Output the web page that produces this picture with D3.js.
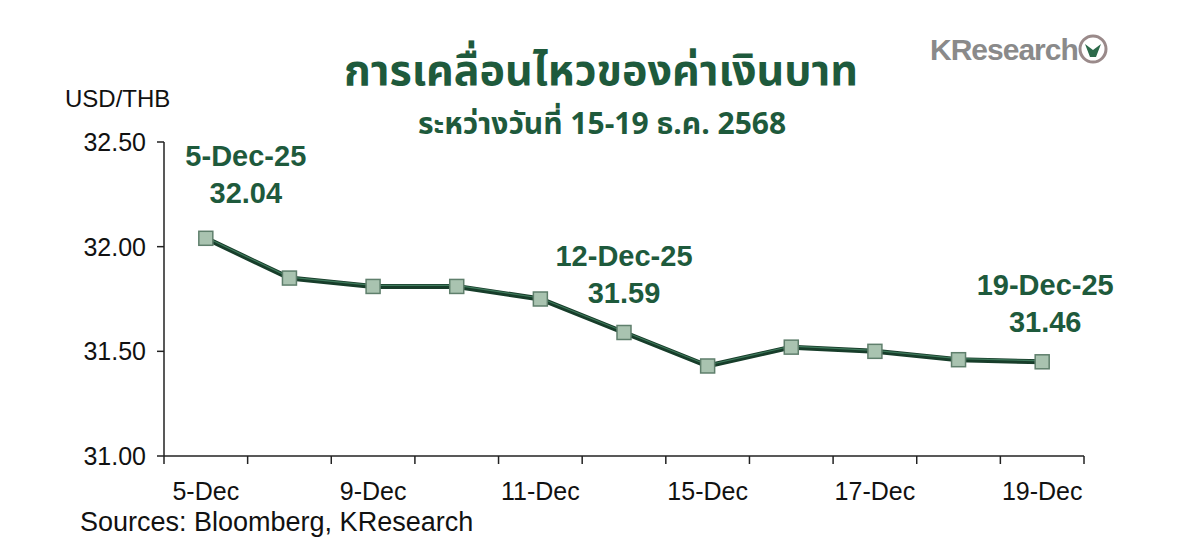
<!DOCTYPE html>
<html><head><meta charset="utf-8">
<script src="https://cdn.jsdelivr.net/npm/d3@7"></script>
<style>body{margin:0;background:#fff}text{font-family:"Liberation Sans",Arial,sans-serif}</style>
</head><body><div id="container"></div>
<script>
const dates = ["5-Dec","8-Dec","9-Dec","10-Dec","11-Dec","12-Dec","15-Dec","16-Dec","17-Dec","18-Dec","19-Dec"]
const rates = [32.04,31.85,31.81,31.81,31.75,31.59,31.43,31.52,31.50,31.46,31.45]
const tickLabels = ["5-Dec","9-Dec","11-Dec","15-Dec","17-Dec","19-Dec"]
const yTicks = [31.00,31.50,32.00,32.50]
const callouts = [
  {date:"5-Dec", lines:["5-Dec-25","32.04"], dx:40, dy:-72},
  {date:"12-Dec", lines:["12-Dec-25","31.59"], dx:0, dy:-66},
  {date:"19-Dec", lines:["19-Dec-25","31.46"], dx:3, dy:-67}
]

const green = "#1e5a3c"
const svg = d3.select("#container").append("svg").attr("width",1200).attr("height",554)

const x = d3.scaleBand().domain(dates).range([164,1084])
const y = d3.scaleLinear().domain([31,32.5]).range([456,142])
const cx = d => x(d) + x.bandwidth()/2

// axes
svg.append("line").attr("x1",164).attr("x2",164).attr("y1",142).attr("y2",456).attr("stroke","#222").attr("stroke-width",1.5)
svg.append("line").attr("x1",164).attr("x2",1084).attr("y1",456).attr("y2",456).attr("stroke","#222").attr("stroke-width",1.5)
yTicks.forEach(t => {
  svg.append("line").attr("x1",157).attr("x2",164).attr("y1",y(t)).attr("y2",y(t)).attr("stroke","#222").attr("stroke-width",1.5)
  svg.append("text").attr("x",146).attr("y",y(t)+9).attr("text-anchor","end").attr("font-size",25).attr("fill","#111").text(t.toFixed(2))
})
dates.concat(["end"]).forEach((d,i) => {
  const xx = 164 + i*x.bandwidth()
  svg.append("line").attr("x1",xx).attr("x2",xx).attr("y1",456).attr("y2",464).attr("stroke","#222").attr("stroke-width",1.5)
})
tickLabels.forEach(d => {
  svg.append("text").attr("x",cx(d)).attr("y",500).attr("text-anchor","middle").attr("font-size",25).attr("fill","#111").text(d)
})

// line
const line = d3.line().x((d,i) => cx(dates[i])).y(d => y(d))
svg.append("path").attr("d",line(rates)).attr("fill","none").attr("stroke","#173d2a").attr("stroke-width",5)
svg.append("path").attr("d",line(rates)).attr("fill","none").attr("stroke","#3f7a5c").attr("stroke-width",1.2).attr("transform","translate(0,-1)")
svg.selectAll(".pt").data(rates).enter().append("rect")
  .attr("x",(d,i) => cx(dates[i])-7).attr("y",d => y(d)-7).attr("width",14).attr("height",14)
  .attr("fill","#a9c3b0").attr("stroke","#5f7f6c").attr("stroke-width",1.5)

// callouts
callouts.forEach(c => {
  const i = dates.indexOf(c.date)
  c.lines.forEach((l,k) => {
    svg.append("text").attr("x",cx(c.date)+c.dx).attr("y",y(rates[i])+c.dy+k*37)
      .attr("text-anchor","middle").attr("font-size",29).attr("font-weight","bold").attr("fill",green).text(l)
  })
})

// titles
svg.append("text").attr("x",601).attr("y",85).attr("text-anchor","middle").attr("font-size",43).attr("font-weight","bold")
  .attr("fill",green).style("font-family","'Noto Sans Thai','Noto Sans',sans-serif").text("การเคลื่อนไหวของค่าเงินบาท")
svg.append("text").attr("x",602).attr("y",134).attr("text-anchor","middle").attr("font-size",30).attr("font-weight","bold")
  .attr("fill",green).style("font-family","'Noto Sans Thai','Noto Sans',sans-serif").text("ระหว่างวันที่ 15-19 ธ.ค. 2568")
svg.append("text").attr("x",65).attr("y",107).attr("font-size",24).attr("fill","#111").text("USD/THB")
svg.append("text").attr("x",80).attr("y",531).attr("font-size",27).attr("fill","#111").text("Sources: Bloomberg, KResearch")

// logo
svg.append("text").attr("x",930).attr("y",60).attr("font-size",30).attr("font-weight","bold").attr("fill","#8a8a8a").attr("letter-spacing",-1).text("KResearch")
svg.append("circle").attr("cx",1093).attr("cy",49).attr("r",13).attr("fill","none").attr("stroke","#9a8a8a").attr("stroke-width",3)
svg.append("path").attr("d","M1085,44 L1093,50 L1101,44 L1096,57 L1090,57 Z").attr("fill","#2c6a4a")
</script></body></html>
